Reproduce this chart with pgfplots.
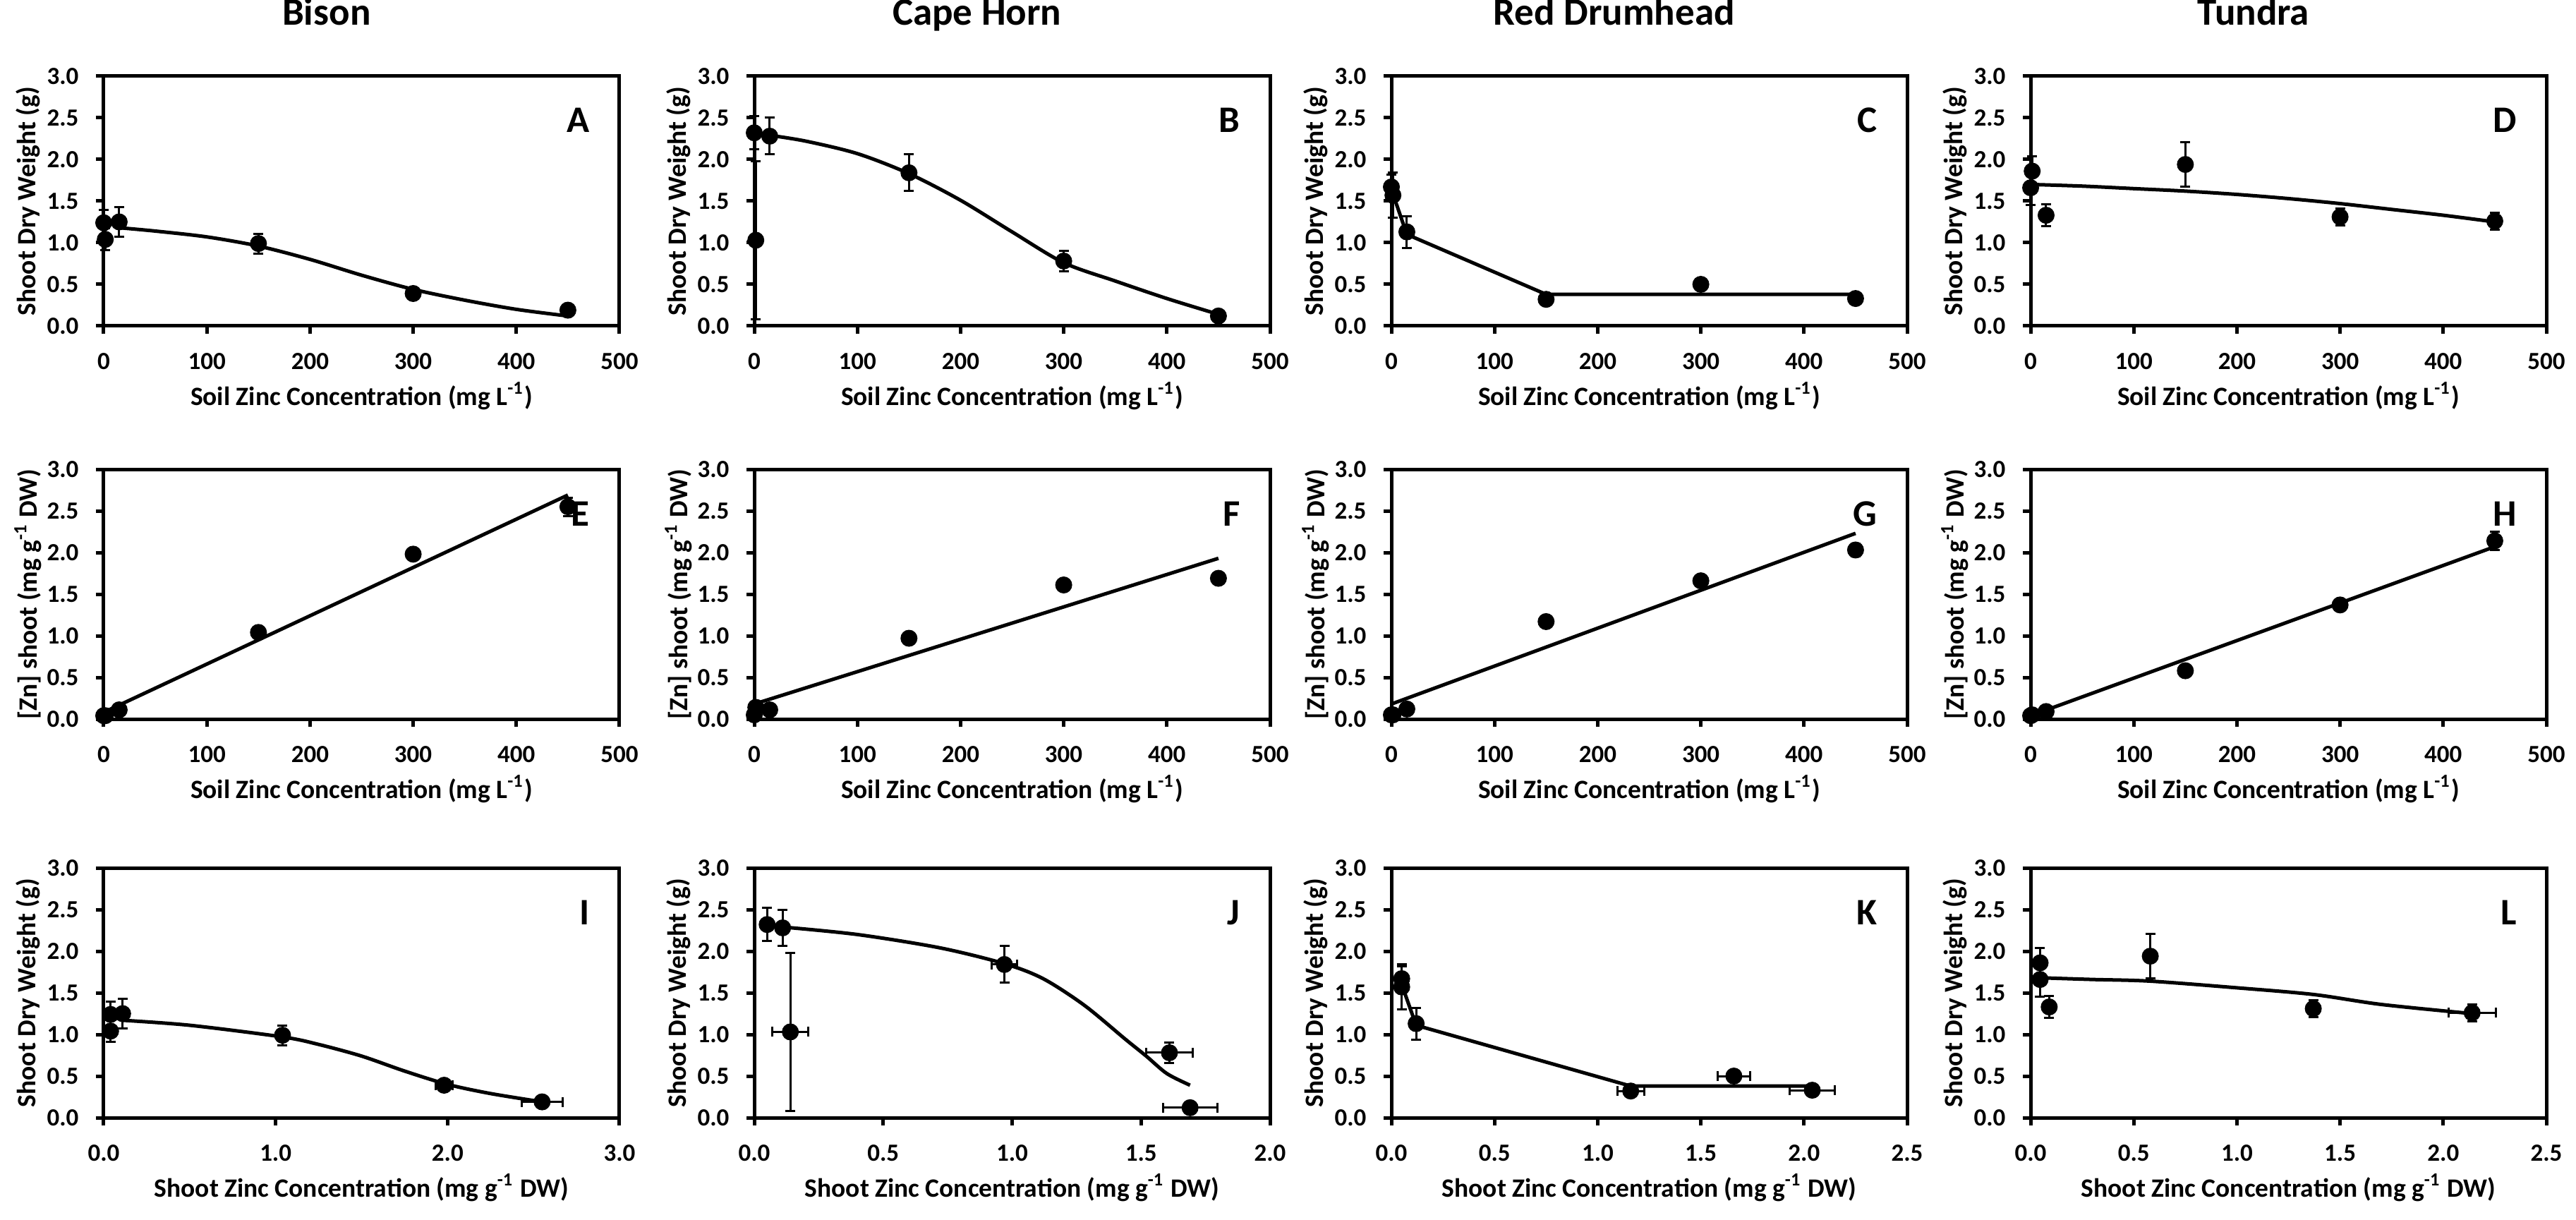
\documentclass[border=0pt]{standalone}
\usepackage{fontspec}
\setmainfont{Carlito}
\usepackage{pgfplots}
\pgfplotsset{compat=1.18}

\pgfplotsset{
  panel/.style={
    scale only axis, width=146.2pt, height=70.8pt, anchor=south west, clip=false,
    ymin=0, ymax=3, ytick={0,0.5,...,3},
    axis line style={line width=1pt}, every tick/.style={black, line width=1pt},
    tick align=outside, tick pos=left, major tick length=2.2pt,
    /pgf/number format/assume math mode=true,
    tick label style={font=\fontsize{7}{8}\selectfont\bfseries},
    yticklabel style={/pgf/number format/.cd, fixed, fixed zerofill, precision=1, /tikz/.cd, xshift=-1.4pt},
    xticklabel style={yshift=-2pt},
    label style={font=\fontsize{7.5}{8}\selectfont\bfseries},
    xlabel style={at={(axis description cs:0.5,-0.28)}, anchor=center},
    ylabel style={at={(axis description cs:-0.147,0.5)}, anchor=center},
    title style={at={(axis description cs:0.432,1.119)}, anchor=base,
      font=\fontsize{11}{12}\selectfont\bfseries},
  },
  soil/.style={xmin=0, xmax=500, xtick={0,100,...,500},
    xlabel={Soil Zinc Concentration (mg L\textsuperscript{-1})}},
  shoot/.style={xlabel={Shoot Zinc Concentration (mg g\textsuperscript{-1} DW)},
    xticklabel style={/pgf/number format/.cd, fixed, fixed zerofill, precision=1, /tikz/.cd}},
  dw/.style={ylabel={Shoot Dry Weight (g)}},
  zn/.style={ylabel={{[Zn]} shoot (mg g\textsuperscript{-1} DW)}},
  dots/.style={only marks, mark=*, mark size=2.2pt, black,
    /pgfplots/error bars/y dir=both, /pgfplots/error bars/y explicit,
    /pgfplots/error bars/error bar style={line width=0.6pt},
    /pgfplots/error bars/error mark options={rotate=90, mark size=1.4pt, line width=0.6pt}},
  dotsxy/.style={dots, /pgfplots/error bars/x dir=both, /pgfplots/error bars/x explicit},
  fit/.style={no marks, black, line width=1pt, smooth},
  fitlin/.style={no marks, black, line width=1pt},
}
\newcommand\plabel[1]{\node[anchor=base east, font=\fontsize{10.6}{12}\selectfont\bfseries]
  at (rel axis cs:0.966,0.774) {#1};}

\begin{document}
\begin{tikzpicture}
\path[use as bounding box] (0,0) rectangle (730.2pt,345.6pt);

% ---- row 1: shoot dry weight vs soil Zn
\begin{axis}[panel, soil, dw, title={Bison}, at={(29.4pt,253.2pt)}]
  \addplot[fit] coordinates {(15,1.18) (50,1.14) (100,1.07) (150,0.96) (200,0.80)
    (250,0.61) (300,0.44) (350,0.31) (400,0.20) (450,0.12)};
  \addplot[dots] coordinates {(0,1.24) +- (0,0.15) (1.5,1.04) +- (0,0.13) (15,1.25) +- (0,0.18)
    (150,0.99) +- (0,0.12) (300,0.39) +- (0,0.05) (450,0.19) +- (0,0.03)};
  \plabel{A}
\end{axis}
\begin{axis}[panel, soil, dw, title={Cape Horn}, at={(213.8pt,253.2pt)}]
  \addplot[fit] coordinates {(15,2.29) (50,2.22) (100,2.07) (150,1.83) (200,1.51)
    (250,1.13) (300,0.76) (350,0.54) (400,0.33) (450,0.14)};
  \addplot[dots] coordinates {(0,2.32) +- (0,0.20) (1.5,1.03) +- (0,0.95) (15,2.28) +- (0,0.22)
    (150,1.84) +- (0,0.22) (300,0.78) +- (0,0.12) (450,0.12) +- (0,0.03)};
  \plabel{B}
\end{axis}
\begin{axis}[panel, soil, dw, title={Red Drumhead}, at={(394.4pt,253.2pt)}]
  \addplot[fitlin] coordinates {(0,1.64) (15,1.10) (150,0.38) (450,0.38)};
  \addplot[dots] coordinates {(0,1.67) +- (0,0.15) (1.5,1.57) +- (0,0.27) (15,1.13) +- (0,0.19)
    (150,0.32) +- (0,0.04) (300,0.50) +- (0,0.06) (450,0.33) +- (0,0.03)};
  \plabel{C}
\end{axis}
\begin{axis}[panel, soil, dw, title={Tundra}, at={(575.6pt,253.2pt)}]
  \addplot[fit] coordinates {(0,1.70) (50,1.68) (100,1.65) (150,1.62) (200,1.58)
    (250,1.53) (300,1.47) (350,1.40) (400,1.33) (450,1.25)};
  \addplot[dots] coordinates {(0,1.66) +- (0,0.21) (1.5,1.86) +- (0,0.18) (15,1.33) +- (0,0.13)
    (150,1.94) +- (0,0.27) (300,1.31) +- (0,0.10) (450,1.26) +- (0,0.10)};
  \plabel{D}
\end{axis}

% ---- row 2: shoot Zn vs soil Zn
\begin{axis}[panel, soil, zn, at={(29.4pt,141.8pt)}]
  \addplot[fitlin] coordinates {(0,0.08) (450,2.69)};
  \addplot[dots] coordinates {(0,0.04) +- (0,0.01) (1.5,0.04) +- (0,0.01) (15,0.11) +- (0,0.02)
    (150,1.04) +- (0,0.03) (300,1.98) +- (0,0.03) (450,2.55) +- (0,0.11)};
  \plabel{E}
\end{axis}
\begin{axis}[panel, soil, zn, at={(213.8pt,141.8pt)}]
  \addplot[fitlin] coordinates {(0,0.18) (450,1.93)};
  \addplot[dots] coordinates {(0,0.05) +- (0,0.01) (1.5,0.14) +- (0,0.02) (15,0.11) +- (0,0.02)
    (150,0.97) +- (0,0.03) (300,1.61) +- (0,0.05) (450,1.69) +- (0,0.07)};
  \plabel{F}
\end{axis}
\begin{axis}[panel, soil, zn, at={(394.4pt,141.8pt)}]
  \addplot[fitlin] coordinates {(0,0.18) (450,2.23)};
  \addplot[dots] coordinates {(0,0.05) +- (0,0.01) (1.5,0.05) +- (0,0.01) (15,0.12) +- (0,0.02)
    (150,1.17) +- (0,0.03) (300,1.66) +- (0,0.04) (450,2.03) +- (0,0.08)};
  \plabel{G}
\end{axis}
\begin{axis}[panel, soil, zn, at={(575.6pt,141.8pt)}]
  \addplot[fitlin] coordinates {(0,0.04) (450,2.07)};
  \addplot[dots] coordinates {(0,0.04) +- (0,0.01) (1.5,0.05) +- (0,0.01) (15,0.09) +- (0,0.02)
    (150,0.58) +- (0,0.03) (300,1.37) +- (0,0.04) (450,2.14) +- (0,0.11)};
  \plabel{H}
\end{axis}

% ---- row 3: shoot dry weight vs shoot Zn
\begin{axis}[panel, shoot, dw, at={(29.4pt,28.8pt)}, xmin=0, xmax=3, xtick={0,1,2,3}]
  \addplot[fit] coordinates {(0.11,1.17) (0.5,1.11) (1.04,0.97) (1.25,0.88) (1.5,0.74)
    (1.75,0.56) (2.0,0.40) (2.25,0.29) (2.55,0.19)};
  \addplot[dotsxy] coordinates {(0.04,1.24) +- (0.01,0.15) (0.04,1.04) +- (0.01,0.13)
    (0.11,1.25) +- (0.01,0.18) (1.04,0.99) +- (0.02,0.12) (1.98,0.39) +- (0.05,0.05)
    (2.55,0.19) +- (0.12,0.03)};
  \plabel{I}
\end{axis}
\begin{axis}[panel, shoot, dw, at={(213.8pt,28.8pt)}, xmin=0, xmax=2, xtick={0,0.5,...,2}]
  \addplot[fit] coordinates {(0.11,2.29) (0.4,2.20) (0.72,2.04) (0.97,1.85) (1.12,1.67)
    (1.28,1.35) (1.44,0.94) (1.52,0.74) (1.60,0.53) (1.69,0.39)};
  \addplot[dotsxy] coordinates {(0.05,2.32) +- (0.01,0.20) (0.14,1.03) +- (0.07,0.95)
    (0.11,2.28) +- (0.01,0.22) (0.97,1.84) +- (0.05,0.22) (1.61,0.78) +- (0.09,0.12)
    (1.69,0.12) +- (0.105,0.03)};
  \plabel{J}
\end{axis}
\begin{axis}[panel, shoot, dw, at={(394.4pt,28.8pt)}, xmin=0, xmax=2.5, xtick={0,0.5,...,2.5}]
  \addplot[fitlin] coordinates {(0.05,1.60) (0.12,1.11) (1.16,0.38) (2.04,0.38)};
  \addplot[dotsxy] coordinates {(0.05,1.67) +- (0.01,0.15) (0.05,1.57) +- (0.01,0.27)
    (0.12,1.13) +- (0.01,0.19) (1.16,0.32) +- (0.065,0.04) (1.66,0.50) +- (0.08,0.06)
    (2.04,0.33) +- (0.11,0.03)};
  \plabel{K}
\end{axis}
\begin{axis}[panel, shoot, dw, at={(575.6pt,28.8pt)}, xmin=0, xmax=2.5, xtick={0,0.5,...,2.5}]
  \addplot[fit] coordinates {(0.05,1.68) (0.3,1.66) (0.58,1.64) (1.0,1.56) (1.37,1.48)
    (1.7,1.36) (2.14,1.25)};
  \addplot[dotsxy] coordinates {(0.046,1.66) +- (0.01,0.21) (0.046,1.86) +- (0.01,0.18)
    (0.09,1.33) +- (0.01,0.13) (0.58,1.94) +- (0.02,0.27) (1.37,1.31) +- (0.02,0.10)
    (2.14,1.26) +- (0.115,0.10)};
  \plabel{L}
\end{axis}
\end{tikzpicture}
\end{document}
